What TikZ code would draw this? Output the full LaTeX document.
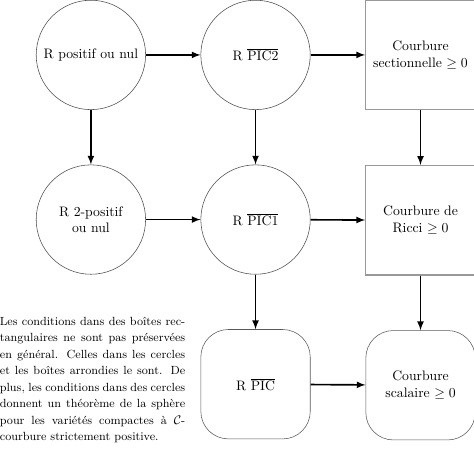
\documentclass[tikz,border=0pt]{standalone}
\usepackage{amsmath}
\usetikzlibrary{positioning}
\begin{document}
\begin{tikzpicture}[node distance=1.4cm,
	rond/.style={circle, draw=black!70, minimum size=2.8cm, align=center},
	carre/.style={rectangle, draw=black!40, line width=.9pt, minimum size=2.8cm, align=center},
	arrondi/.style={rectangle, draw=black!65, rounded corners=20pt, minimum size=2.8cm, align=center},
	fleche/.style={->, >=latex, line width=1.2pt}]
	%cadre
	\useasboundingbox (-66.2pt,40pt) rectangle (279pt,-286.5pt);
	%nodes
	\node[rond] (rpos) at (0,0) {R positif ou nul};
	\node[rond, right=of rpos] (pic2) {R $\overline{\mathrm{PIC2}}$};
	\node[carre, right=of pic2] (sec) {Courbure\\sectionnelle $\geq 0$};
	\node[rond, below=of rpos] (r2pos) {R 2-positif\\ou nul};
	\node[rond, below=of pic2] (pic1) {R $\overline{\mathrm{PIC1}}$};
	\node[carre, below=of sec] (ricci) {Courbure de\\Ricci $\geq 0$};
	\node[arrondi, below=of pic1] (pic) {R $\overline{\mathrm{PIC}}$};
	\node[arrondi, below=of ricci] (scal) {Courbure\\scalaire $\geq 0$};
	%texte
	\node[text width=135pt, align=justify, inner sep=0pt, xshift=1.2pt, yshift=3pt,
		font=\fontsize{8.6}{12}\selectfont] (texte) at (rpos |- pic)
	{Les conditions dans des boîtes rec-\linebreak tangulaires ne sont pas préservées\linebreak
	en général. Celles dans les cercles\linebreak et les boîtes arrondies le sont. De\linebreak
	plus, les conditions dans des cercles\linebreak donnent un théorème de la sphère\linebreak
	pour les variétés compactes à $\mathcal{C}$-\linebreak courbure strictement positive.};
	%arrows
	\draw[fleche] (rpos) -- (pic2);
	\draw[fleche] (pic2) -- (sec);
	\draw[fleche] (r2pos) -- (pic1);
	\draw[fleche] (pic1) -- (ricci);
	\draw[fleche] (pic) -- (scal);
	\draw[fleche] (rpos) -- (r2pos);
	\draw[fleche] (pic2) -- (pic1);
	\draw[fleche] (pic1) -- (pic);
	\draw[fleche] (sec) -- (ricci);
	\draw[fleche] (ricci) -- (scal);
\end{tikzpicture}
\end{document}
